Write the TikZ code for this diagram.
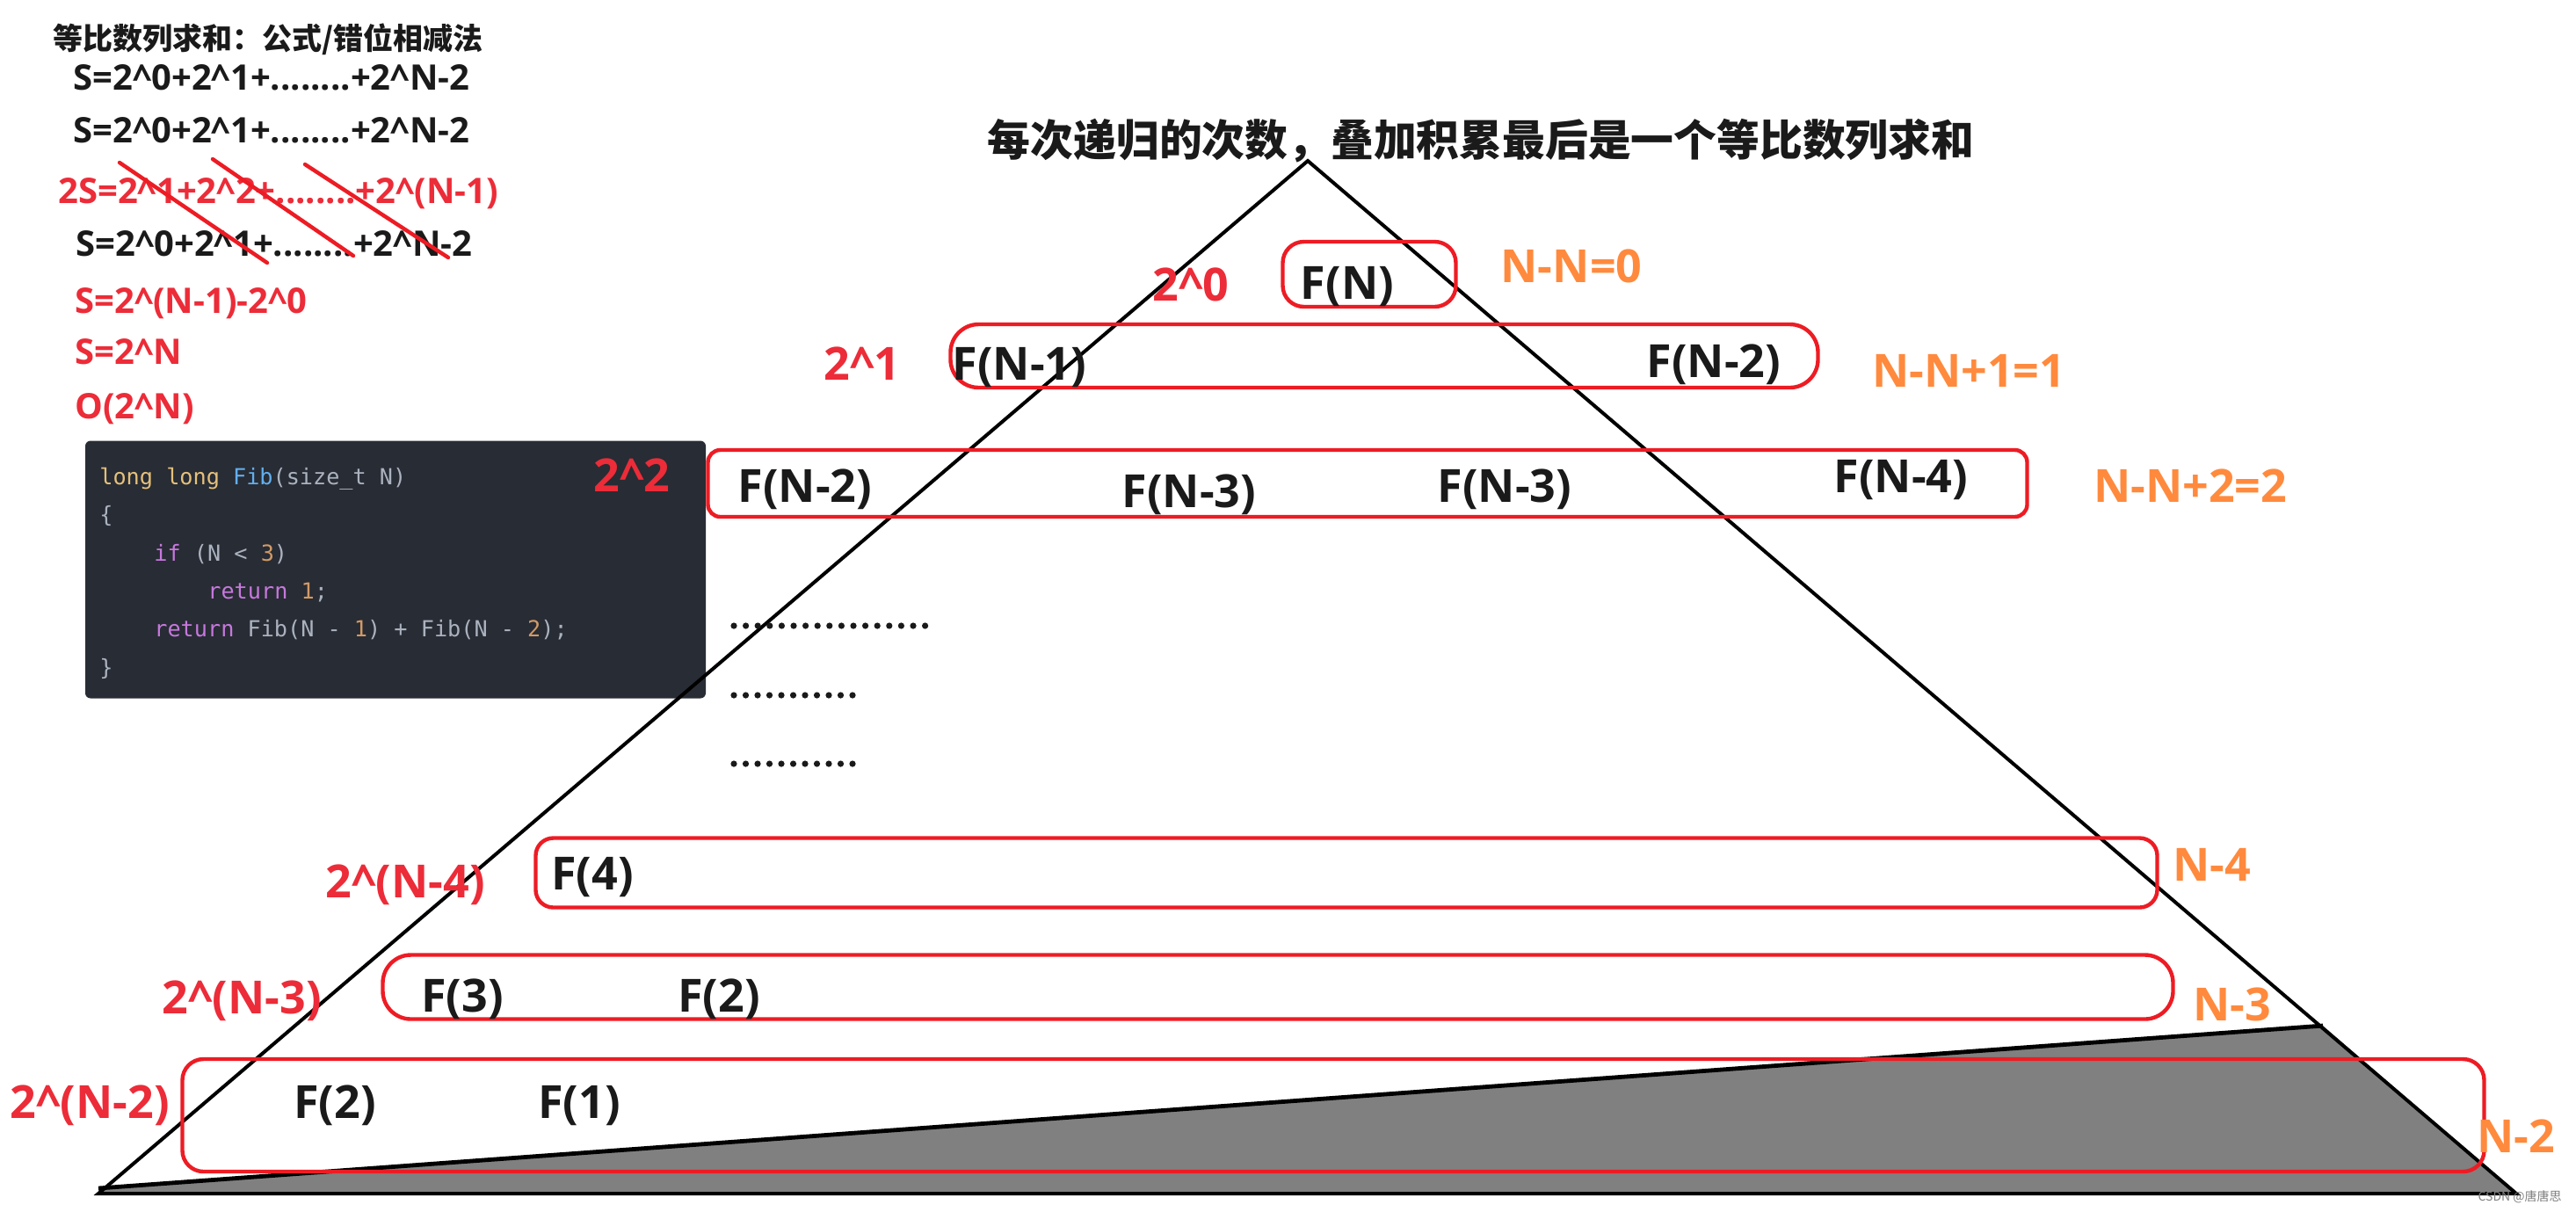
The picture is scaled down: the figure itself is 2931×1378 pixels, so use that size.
\documentclass[tikz,border=0pt]{standalone}
\usepackage{fontspec}
\setmainfont{Open Sans}
\setmonofont{DejaVu Sans Mono}
\newfontfamily\cjk{Noto Sans CJK SC}
\definecolor{boxred}{HTML}{ED1C24}
\definecolor{labred}{HTML}{EC2C38}
\definecolor{orng}{HTML}{FF8A3D}
\definecolor{ink}{HTML}{1A1A1A}
\definecolor{codebg}{HTML}{282C34}
\definecolor{cy}{HTML}{E5C07B}
\definecolor{cb}{HTML}{61AFEF}
\definecolor{cg}{HTML}{ABB2BF}
\definecolor{cp}{HTML}{C678DD}
\definecolor{co}{HTML}{D19A66}
\definecolor{gfill}{HTML}{808080}
\begin{document}
\begin{tikzpicture}[x={(0.5pt,0)},y={(0,-0.5pt)},
  lab/.style={font=\bfseries\fontsize{26}{30}\selectfont, inner sep=0, text height=18.7pt, text depth=0pt, anchor=center},
  fn/.style={lab, text=ink},
  rlab/.style={lab, text=labred},
  olab/.style={lab, text=orng},
  formula/.style={font=\bfseries\fontsize{20}{24}\selectfont, inner sep=0, text height=14.4pt, text depth=0pt, anchor=west},
  code/.style={font=\ttfamily\fontsize{12.6}{15}\selectfont, inner sep=0, anchor=base west, text=cg},
  redbox/.style={draw=boxred, line width=2.2pt, inner sep=0, fill=none},
  tri/.style={draw=black, line width=2pt, line join=miter},
  dotrow/.style={fill=ink, draw=none}]
\useasboundingbox (0,0) rectangle (2931,1378);
\fill[white] (0,0) rectangle (2931,1378);

% code box
\node[fill=codebg, rounded corners=3pt, minimum width=353pt, minimum height=146.5pt, inner sep=0] (codebox) at (450,648) {};
\node[code] (c1) at (113,551) {\textcolor{cy}{long long} \textcolor{cb}{Fib}(size\_t N)};
\node[code] (c2) at (113,594) {\{};
\node[code] (c3) at (175,638) {\textcolor{cp}{if} (N < \textcolor{co}{3})};
\node[code] (c4) at (236,681) {\textcolor{cp}{return} \textcolor{co}{1};};
\node[code] (c5) at (175,724) {\textcolor{cp}{return} Fib(N - \textcolor{co}{1}) + Fib(N - \textcolor{co}{2});};
\node[code] (c6) at (113,768) {\}};

% gray part and triangle
\fill[gfill] (112,1352) -- (2643,1167) -- (2863,1358) -- (112,1358) -- cycle;
\draw[line width=2.4pt] (112,1352) -- (2643,1167);
\draw[tri] (1488,183) -- (2863,1358) -- (112,1358) -- cycle;

% titles
\node[font=\cjk\bfseries\fontsize{17}{20}\selectfont, text=ink, inner sep=0] (t1) at (305,45) {等比数列求和：公式/错位相减法};
\node[font=\cjk\bfseries\fontsize{24.4}{30}\selectfont, text=ink, inner sep=0] (t2) at (1685,160) {每次递归的次数，叠加积累最后是一个等比数列求和};

% formulas
\node[formula, text=ink] (f1) at (83,88) {S=2\^{}0+2\^{}1+........+2\^{}N-2};
\node[formula, text=ink] (f2) at (83,148) {S=2\^{}0+2\^{}1+........+2\^{}N-2};
\node[formula, text=labred] (f3) at (66,217) {2S=2\^{}1+2\^{}2+........+2\^{}(N-1)};
\node[formula, text=ink] (f4) at (86,277) {S=2\^{}0+2\^{}1+........+2\^{}N-2};
\node[formula, text=labred] (f5) at (85,342) {S=2\^{}(N-1)-2\^{}0};
\node[formula, text=labred] (f6) at (85,400) {S=2\^{}N};
\node[formula, text=labred] (f7) at (85,462) {O(2\^{}N)};
\draw[boxred, line width=2.2pt, line cap=round] (136,185) -- (304,299);
\draw[boxred, line width=2.2pt, line cap=round] (242,181) -- (402,291);
\draw[boxred, line width=2.2pt, line cap=round] (347,187) -- (510,293);

% red boxes
\node[redbox, rounded corners=12pt, minimum width=98.5pt, minimum height=37pt] (b1) at (1558,312) {};
\node[redbox, rounded corners=16pt, minimum width=493.5pt, minimum height=36pt] (b2) at (1575,405) {};
\node[redbox, rounded corners=7pt, minimum width=750.5pt, minimum height=38pt] (b3) at (1556,550) {};
\node[redbox, rounded corners=10pt, minimum width=922.5pt, minimum height=39.5pt] (b4) at (1532,993) {};
\node[redbox, rounded corners=16pt, minimum width=1018.5pt, minimum height=36.5pt] (b5) at (1454,1123) {};
\node[redbox, rounded corners=12pt, minimum width=1309.5pt, minimum height=64pt] (b6) at (1517,1269) {};

% labels row 0
\node[rlab] (p0) at (1355,324) {2\^{}0};
\node[fn] (fN) at (1533,322) {F(N)};
\node[olab] (o0) at (1788,303) {N-N=0};
% row 1
\node[rlab] (p1) at (981,414) {2\^{}1};
\node[fn] (fN1) at (1160,414) {F(N-1)};
\node[fn] (fN2) at (1950,411) {F(N-2)};
\node[olab] (o1) at (2240,422) {N-N+1=1};
% row 2
\node[rlab] (p2) at (719,541) {2\^{}2};
\node[fn] (fN2b) at (916,553) {F(N-2)};
\node[fn] (fN3a) at (1353,559) {F(N-3)};
\node[fn] (fN3b) at (1712,553) {F(N-3)};
\node[fn] (fN4) at (2163,542) {F(N-4)};
\node[olab] (o2) at (2492,553) {N-N+2=2};
% dots
\foreach \i in {0,...,16} {\fill[dotrow] (835+13.6*\i,712) circle (1.8pt);}
\foreach \i in {0,...,10} {\fill[dotrow] (835+13.5*\i,791) circle (1.8pt);}
\foreach \i in {0,...,10} {\fill[dotrow] (835+13.5*\i,869) circle (1.8pt);}
% row N-4
\node[rlab] (p4) at (461,1003) {2\^{}(N-4)};
\node[fn] (f4) at (674,994) {F(4)};
\node[olab] (o4) at (2517,984) {N-4};
% row N-3
\node[rlab] (p3) at (275,1135) {2\^{}(N-3)};
\node[fn] (f3) at (526,1133) {F(3)};
\node[fn] (f2a) at (818,1133) {F(2)};
\node[olab] (o3) at (2540,1143) {N-3};
% row N-2
\node[rlab] (p5) at (102,1254) {2\^{}(N-2)};
\node[fn] (f2b) at (381,1254) {F(2)};
\node[fn] (f1b) at (659,1254) {F(1)};
\node[olab] (o5) at (2863,1293) {N-2};

% watermark
\node[font=\cjk\fontsize{7}{8}\selectfont, text=gray, inner sep=0, anchor=east] (wm) at (2915,1362) {CSDN @唐唐思};
\end{tikzpicture}
\end{document}
